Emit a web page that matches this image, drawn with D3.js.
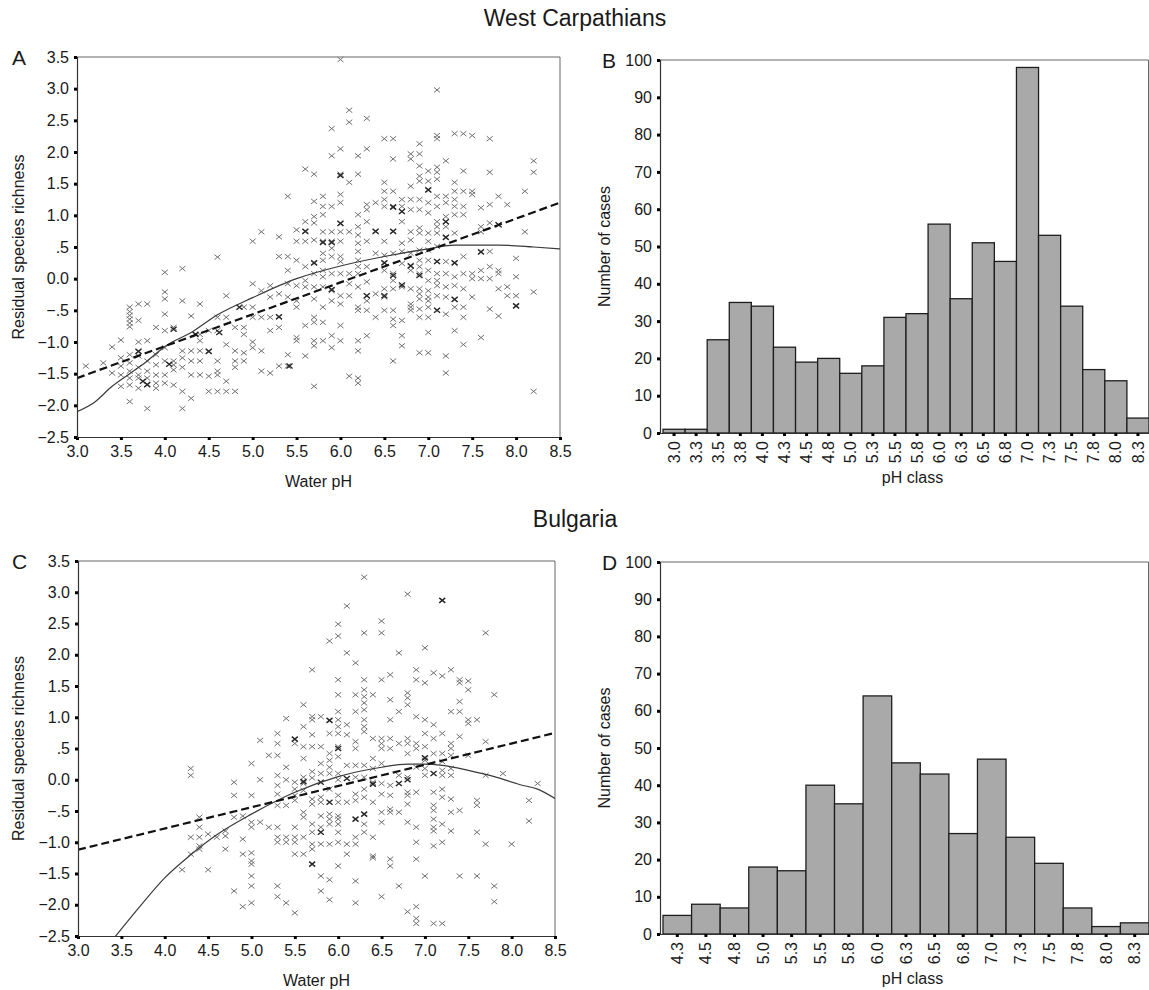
<!DOCTYPE html>
<html>
<head>
<meta charset="utf-8">
<script src="https://cdn.jsdelivr.net/npm/d3@7"></script>
<style>
  body { margin: 0; background: #fff; }
  svg { display: block; }
  text { font-family: "Liberation Sans", Arial, sans-serif; fill: #1a1a1a; }
</style>
</head>
<body>
<div class="figure"></div>
<script>
// West Carpathians: residual richness by water pH, one list per pH value
const colsA = [
  [3.1, [-1.38]], [3.3, [-1.33]], [3.4, [-1.08, -1.49]],
  [3.5, [-0.97, -1.25, -1.38, -1.52, -1.7]],
  [3.6, [-0.45, -0.52, -0.58, -0.64, -0.7, -0.76, -1.2, -1.33, -1.46, -1.57, -1.68, -1.94]],
  [3.7, [-0.4, -0.66, -1.0, -1.14, -1.22, -1.4, -1.52, -1.57, -1.73]],
  [3.8, [-0.4, -0.98, -1.3, -1.46, -1.57, -1.68, -2.05]],
  [3.9, [-0.77, -1.2, -1.36, -1.52, -1.65, -1.73]],
  [4.0, [0.1, -0.21, -0.32, -0.56, -0.82, -1.09, -1.3, -1.52, -1.65]],
  [4.1, [-0.77, -1.3, -1.36, -1.44, -1.68]],
  [4.2, [0.16, -0.35, -1.14, -1.25, -1.4, -1.78, -2.05]],
  [4.3, [-0.59, -1.14, -1.3, -1.52, -1.89]],
  [4.4, [-0.4, -0.88, -0.98, -1.14, -1.3, -1.52]],
  [4.5, [-0.82, -1.14, -1.54, -1.78]],
  [4.6, [0.34, -0.61, -0.82, -1.3, -1.46, -1.52, -1.78]],
  [4.7, [-0.27, -0.61, -1.04, -1.62, -1.78]],
  [4.8, [-0.77, -1.14, -1.3, -1.4, -1.78]],
  [4.9, [-0.45, -0.77, -0.88, -1.17, -1.3]],
  [5.0, [0.59, -0.08, -0.45, -0.61, -1.0, -1.09]],
  [5.1, [0.74, -0.19, -0.61, -1.14, -1.46]],
  [5.2, [-0.11, -0.29, -0.61, -0.82, -1.49]],
  [5.3, [0.66, 0.35, -0.24, -0.61, -0.77, -1.38]],
  [5.4, [1.3, 0.35, 0.13, -0.08, -0.29, -1.2, -1.38]],
  [5.5, [0.77, 0.59, 0.29, -0.11, -0.35, -0.45, -0.93, -0.98]],
  [5.6, [1.73, 0.9, 0.74, 0.59, 0.19, -0.03, -0.13, -0.74, -1.22]],
  [5.7, [1.65, 1.22, 0.98, 0.88, 0.61, 0.24, 0.08, -0.13, -0.32, -0.61, -0.69, -0.98, -1.06, -1.7]],
  [5.8, [1.3, 1.14, 1.01, 0.74, 0.59, 0.4, 0.29, 0.13, 0.03, -0.13, -0.45, -0.69, -0.98]],
  [5.9, [2.37, 1.94, 1.14, 0.74, 0.59, 0.48, 0.35, 0.08, -0.19, -0.35, -0.9, -1.09]],
  [6.0, [3.46, 2.05, 1.65, 1.33, 1.2, 0.88, 0.74, 0.59, 0.35, 0.27, 0.08, -0.27, -0.4, -0.74, -0.98]],
  [6.1, [2.66, 2.47, 1.52, 0.74, 0.08, -0.08, -0.27, -1.54]],
  [6.2, [1.94, 1.65, 1.01, 0.82, 0.69, 0.56, 0.43, 0.29, 0.19, 0.08, -0.13, -0.45, -0.5, -0.98, -1.14, -1.57, -1.65]],
  [6.3, [2.53, 2.05, 1.17, 1.09, 0.9, 0.59, 0.19, -0.05, -0.27, -0.35, -0.5, -0.9]],
  [6.4, [1.2, 0.74, 0.4, -0.24, -0.61]],
  [6.5, [2.21, 1.52, 1.38, 1.25, 1.14, 0.59, 0.37, 0.24, 0.13, -0.16, -0.29, -0.5]],
  [6.6, [2.21, 1.89, 1.38, 1.14, 0.74, 0.4, 0.08, -0.03, -0.16, -0.5, -0.64, -0.74, -1.3]],
  [6.7, [1.25, 1.14, 1.06, 0.9, 0.56, 0.43, 0.24, -0.13, -0.66, -0.9, -1.06]],
  [6.8, [1.97, 1.89, 1.46, 1.25, 1.09, 0.74, 0.61, 0.4, 0.21, 0.13, -0.16, -0.4, -0.45, -0.5]],
  [6.9, [2.13, 1.97, 1.78, 1.62, 1.54, 1.25, 1.09, 0.8, 0.72, 0.45, 0.29, 0.19, 0.08, -0.16, -0.24, -0.32, -0.48, -0.61, -1.17]],
  [7.0, [1.7, 1.54, 1.41, 1.2, 1.04, 0.72, 0.59, 0.45, 0.29, 0.13, -0.03, -0.19, -0.29, -0.35, -0.45, -0.61, -0.85, -1.17]],
  [7.1, [2.98, 2.26, 2.21, 1.76, 1.68, 1.57, 1.3, 1.14, 0.9, 0.82, 0.72, 0.51, 0.27, 0.08, -0.03, -0.11, -0.27, -0.5]],
  [7.2, [1.86, 1.3, 1.2, 0.98, 0.9, 0.82, 0.66, 0.27, 0.08, -0.13, -0.29, -0.56, -1.22, -1.49]],
  [7.3, [2.29, 1.52, 1.38, 1.25, 1.14, 1.01, 0.72, 0.24, 0.03, -0.11, -0.32, -0.45, -0.82]],
  [7.4, [2.29, 1.7, 1.38, 1.14, 1.01, 0.35, 0.08, -0.16, -0.45, -0.61, -1.04]],
  [7.5, [2.26, 1.38, 1.33, 0.08, 0.0, -0.29]],
  [7.6, [1.12, 0.82, 0.74, 0.43, 0.13, 0.0, -0.93]],
  [7.7, [2.21, 1.68, 1.17, 0.88, 0.43, 0.19, 0.0, -0.48]],
  [7.8, [1.3, 0.85, 0.13, 0.08, -0.16, -0.59]],
  [7.9, [1.17, -0.13, -0.27]],
  [8.0, [0.32, 0.03, -0.27, -0.43]],
  [8.1, [1.38, 0.74]],
  [8.2, [1.86, 1.68, -0.21, -1.78]]
];
// darker (overlapping) crosses
const heavyA = [
  [3.7, -1.15], [3.75, -1.62], [3.8, -1.67], [4.1, -0.8], [4.05, -1.35], [4.35, -0.88],
  [4.5, -1.15], [4.62, -0.85], [4.85, -0.45], [5.3, -0.6], [5.42, -1.38], [5.6, 0.75],
  [5.8, 0.57], [5.9, 0.57], [5.7, 0.25], [5.9, -0.17], [6.0, 1.63], [6.0, 0.87],
  [6.3, -0.27], [6.4, 0.75], [6.5, -0.27], [6.5, 0.25], [6.6, 0.75], [6.6, 0.05],
  [6.6, 1.13], [6.7, 1.06], [6.7, -0.1], [6.8, 0.2], [6.9, 0.05], [7.0, 1.4],
  [7.1, -0.5], [7.1, 0.27], [7.2, 0.65], [7.2, 0.9], [7.3, -0.33], [7.3, 0.25],
  [7.6, 0.42], [7.8, 0.85], [8.0, -0.43]
];
const linearA = [[3.0, -1.57], [8.5, 1.2]];
const smoothA = [[3.0, -2.1], [3.2, -1.95], [3.4, -1.7], [3.6, -1.5], [3.8, -1.3], [4.0, -1.07],
  [4.3, -0.85], [4.6, -0.57], [5.0, -0.3], [5.5, 0.0], [6.0, 0.2], [6.5, 0.35],
  [7.0, 0.47], [7.3, 0.53], [7.8, 0.53], [8.2, 0.5], [8.5, 0.47]];

// Bulgaria
const colsC = [
  [4.2, [-1.44]], [4.3, [0.18, 0.07, -0.92, -1.19]],
  [4.4, [-0.6, -0.76, -0.92, -1.06, -1.11]], [4.5, [-0.87, -1.44]], [4.6, [-0.92]],
  [4.7, [-0.82, -0.9, -1.11]], [4.8, [-0.04, -0.25, -0.6, -1.78]],
  [4.9, [-0.58, -0.95, -1.19, -2.03]],
  [5.0, [0.26, -0.25, -0.68, -0.76, -1.17, -1.3, -1.35, -1.54, -1.7, -1.97]],
  [5.1, [0.63, 0.0, -0.68]], [5.2, [0.39, -0.76]],
  [5.3, [0.74, 0.58, 0.39, 0.07, -0.09, -0.23, -0.41, -0.76, -0.92, -1.0, -1.7, -1.87]],
  [5.4, [0.98, 0.2, 0.0, -0.41, -0.92, -1.0, -1.97]],
  [5.5, [0.58, -0.04, -0.15, -0.25, -0.33, -0.76, -0.92, -1.0, -1.19, -2.13]],
  [5.6, [1.2, 0.85, 0.53, 0.34, 0.04, -0.06, -0.17, -0.52, -0.6, -0.92, -1.19]],
  [5.7, [1.76, 1.01, 0.96, 0.72, 0.53, 0.13, 0.03, -0.31, -0.39, -0.71, -0.84, -1.03, -1.11]],
  [5.8, [1.01, 0.53, 0.26, 0.1, -0.28, -0.36, -0.58, -0.76, -1.03, -1.54, -1.78]],
  [5.9, [2.22, 0.74, 0.42, 0.31, 0.2, 0.1, -0.15, -0.55, -0.63, -0.71, -1.03, -1.6, -1.92]],
  [6.0, [2.49, 2.3, 1.6, 1.36, 1.09, 0.96, 0.85, 0.74, 0.53, 0.37, 0.1, 0.0, -0.25, -0.36, -0.58, -0.63, -0.71, -0.84, -1.0, -1.38]],
  [6.1, [2.78, 2.03, 0.88, 0.72, 0.23, -0.36, -1.03, -1.19]],
  [6.2, [1.87, 1.36, 1.09, 0.61, 0.5, 0.23, 0.04, -0.23, -0.33, -0.92, -1.03, -1.62, -1.97]],
  [6.3, [3.24, 2.35, 1.6, 1.44, 1.33, 1.23, 1.12, 0.96, 0.85, 0.77, 0.23, 0.04, -0.15, -0.28, -0.71, -0.84]],
  [6.4, [1.36, 0.66, 0.34, 0.18, -0.04, -0.36, -0.92, -1.22, -1.25]],
  [6.5, [2.54, 2.35, 1.6, 0.66, 0.58, 0.5, 0.26, -0.06, -0.23, -0.52, -0.68, -1.87]],
  [6.6, [1.68, 1.28, 0.96, 0.66, 0.5, -0.09, -0.25, -0.47, -0.52, -1.27, -1.38]],
  [6.7, [2.03, 1.09, 0.58, 0.07, -0.52, -1.7]],
  [6.8, [2.97, 1.39, 1.31, 1.2, 0.66, 0.58, 0.42, 0.04, -0.2, -0.25, -0.39, -0.68, -2.11]],
  [6.9, [1.76, 1.6, 1.01, 0.58, 0.5, 0.2, -0.2, -0.76, -1.0, -1.27, -2.03, -2.22, -2.3]],
  [7.0, [2.11, 1.55, 0.96, 0.74, 0.53, 0.31, 0.18, 0.07, -1.54]],
  [7.1, [1.71, 0.88, 0.66, 0.42, -0.2, -0.41, -0.49, -0.63, -0.76, -0.82, -1.06, -2.3]],
  [7.2, [1.66, 0.74, 0.42, 0.29, 0.15, 0.07, -0.15, -0.28, -0.71, -1.0, -2.3]],
  [7.3, [1.76, 1.09, 0.58, 0.5, 0.39, 0.18, 0.07, -0.31, -0.52, -0.82]],
  [7.4, [1.6, 1.55, 1.25, 1.09, 0.69, -0.49, -1.54]],
  [7.5, [1.58, 1.44, 0.96, 0.9, 0.39]],
  [7.6, [0.96, -0.33, -0.41, -0.84, -1.54]],
  [7.7, [2.35, 0.61, 0.07, -1.03]],
  [7.8, [1.36, -1.7, -1.95]], [7.9, [0.1]], [8.0, [-1.03]],
  [8.2, [-0.33, -0.66]], [8.3, [-0.06]]
];
const heavyC = [
  [5.5, 0.65], [5.7, -1.35], [5.6, -0.03], [5.8, -0.04], [5.8, -0.84], [5.9, -0.36],
  [5.9, 0.95], [6.0, 0.5], [6.1, 0.02], [6.2, -0.63], [6.3, -0.55], [6.4, -0.07],
  [6.7, -0.06], [6.8, 0.0], [7.0, 0.35], [7.1, 0.1], [7.2, 2.87]
];
const linearC = [[3.0, -1.12], [8.5, 0.75]];
const smoothC = [[3.4, -2.56], [3.7, -2.05], [4.0, -1.57], [4.3, -1.2], [4.6, -0.88],
  [5.0, -0.55], [5.5, -0.2], [6.0, 0.05], [6.5, 0.2], [6.8, 0.25], [7.0, 0.25],
  [7.2, 0.23], [7.5, 0.15], [7.8, 0.05], [8.1, -0.08], [8.3, -0.15], [8.5, -0.3]];

// histograms
const classesB = ["3.0", "3.3", "3.5", "3.8", "4.0", "4.3", "4.5", "4.8", "5.0", "5.3", "5.5",
  "5.8", "6.0", "6.3", "6.5", "6.8", "7.0", "7.3", "7.5", "7.8", "8.0", "8.3"];
const countsB = [1, 1, 25, 35, 34, 23, 19, 20, 16, 18, 31, 32, 56, 36, 51, 46, 98, 53, 34, 17, 14, 4];
const classesD = ["4.3", "4.5", "4.8", "5.0", "5.3", "5.5", "5.8", "6.0", "6.3", "6.5", "6.8",
  "7.0", "7.3", "7.5", "7.8", "8.0", "8.3"];
const countsD = [5, 8, 7, 18, 17, 40, 35, 64, 46, 43, 27, 47, 26, 19, 7, 2, 3];

const xTicks = d3.range(3.0, 8.51, 0.5);
const yTicks = d3.range(-2.5, 3.51, 0.5);
const countTicks = d3.range(0, 101, 10);

const svg = d3.select(".figure").append("svg")
  .attr("width", 1149)
  .attr("height", 990);

svg.append("rect").attr("width", 1149).attr("height", 990).attr("fill", "#fff");

// region titles
svg.append("text").attr("x", 575).attr("y", 26).attr("text-anchor", "middle")
  .attr("font-size", "23px").text("West Carpathians");
svg.append("text").attr("x", 575).attr("y", 527).attr("text-anchor", "middle")
  .attr("font-size", "23px").text("Bulgaria");

function residFormat(v) {
  const a = Math.abs(v);
  if (a < 1e-9) return "0.0";
  const s = a === 0.5 ? ".5" : a.toFixed(1);
  return (v < 0 ? "\u2212" : "") + s;
}

function styleAxis(g) {
  g.select(".domain").attr("stroke", "#333").attr("stroke-width", 1.2);
  g.selectAll(".tick line").attr("stroke", "#000").attr("stroke-width", 3);
  g.selectAll(".tick text").attr("font-size", "16px").attr("fill", "#1a1a1a")
    .attr("font-family", "'Liberation Sans', Arial, sans-serif");
}

function scatterPanel(letter, cols, heavy, linear, smooth, box, clipId) {
  const x = d3.scaleLinear().domain([3.0, 8.5]).range([box.left, box.right]);
  const y = d3.scaleLinear().domain([-2.5, 3.5]).range([box.bottom, box.top]);
  const g = svg.append("g");

  // frame top/right
  g.append("path")
    .attr("d", `M${box.left},${box.top}H${box.right}V${box.bottom}`)
    .attr("fill", "none").attr("stroke", "#666").attr("stroke-width", 1);

  g.append("clipPath").attr("id", clipId).append("rect")
    .attr("x", box.left).attr("y", box.top)
    .attr("width", box.right - box.left).attr("height", box.bottom - box.top);

  const points = cols.flatMap(c => c[1].map(v => [c[0], v]));
  const cross = "M-3,-2.5L3,2.5M-3,2.5L3,-2.5";

  g.selectAll(".pt")
    .data(points)
    .enter()
    .append("path")
    .attr("class", "pt")
    .attr("d", cross)
    .attr("transform", d => `translate(${x(d[0])},${y(d[1])})`)
    .attr("fill", "none")
    .attr("stroke", "#707070")
    .attr("stroke-width", 1);

  g.selectAll(".heavy")
    .data(heavy)
    .enter()
    .append("path")
    .attr("class", "heavy")
    .attr("d", cross)
    .attr("transform", d => `translate(${x(d[0])},${y(d[1])})`)
    .attr("fill", "none")
    .attr("stroke", "#262626")
    .attr("stroke-width", 1.4);

  const line = d3.line().x(d => x(d[0])).y(d => y(d[1]));
  g.append("path")
    .attr("clip-path", `url(#${clipId})`)
    .attr("d", line.curve(d3.curveMonotoneX)(smooth))
    .attr("fill", "none").attr("stroke", "#3a3a3a").attr("stroke-width", 1.2);
  g.append("path")
    .attr("clip-path", `url(#${clipId})`)
    .attr("d", d3.line().x(d => x(d[0])).y(d => y(d[1]))(linear))
    .attr("fill", "none").attr("stroke", "#111").attr("stroke-width", 2.2)
    .attr("stroke-dasharray", "8,4");

  g.append("g")
    .attr("transform", `translate(0,${box.bottom})`)
    .call(d3.axisBottom(x).tickValues(xTicks).tickFormat(d3.format(".1f")).tickSize(3).tickPadding(6))
    .call(styleAxis);
  g.append("g")
    .attr("transform", `translate(${box.left},0)`)
    .call(d3.axisLeft(y).tickValues(yTicks).tickFormat(residFormat).tickSize(3).tickPadding(5))
    .call(styleAxis);

  g.append("text").attr("x", 12).attr("y", box.top + 8).attr("font-size", "21px").text(letter);
  g.append("text")
    .attr("transform", `translate(24,${(box.top + box.bottom) / 2}) rotate(-90)`)
    .attr("text-anchor", "middle").attr("font-size", "16px").text("Residual species richness");
  g.append("text")
    .attr("x", (box.left + box.right) / 2).attr("y", box.bottom + 50)
    .attr("text-anchor", "middle").attr("font-size", "16px").text("Water pH");
}

function histPanel(letter, classes, counts, box) {
  const x = d3.scaleBand().domain(classes).range([box.left + 3, box.right]).padding(0);
  const y = d3.scaleLinear().domain([0, 100]).range([box.bottom, box.top]);
  const g = svg.append("g");

  g.append("path")
    .attr("d", `M${box.left},${box.top}H${box.right - 0.5}V${box.bottom}`)
    .attr("fill", "none").attr("stroke", "#666").attr("stroke-width", 1);

  g.selectAll(".bar")
    .data(counts)
    .enter()
    .append("rect")
    .attr("class", "bar")
    .attr("x", (d, i) => x(classes[i]))
    .attr("y", d => y(d))
    .attr("width", x.bandwidth())
    .attr("height", d => y(0) - y(d))
    .attr("fill", "#a9a9a9")
    .attr("stroke", "#1e1e1e")
    .attr("stroke-width", 1.3);

  const xa = g.append("g")
    .attr("transform", `translate(0,${box.bottom})`)
    .call(d3.axisBottom(x).tickSize(3).tickSizeOuter(0).tickPadding(6))
    .call(styleAxis);
  xa.select(".domain").attr("d", `M${box.left},0.5H${box.right}`);
  xa.selectAll(".tick text")
    .attr("transform", "rotate(-90)")
    .attr("text-anchor", "end")
    .attr("x", -8).attr("y", 0).attr("dy", "0.35em");

  g.append("g")
    .attr("transform", `translate(${box.left},0)`)
    .call(d3.axisLeft(y).tickValues(countTicks).tickSize(3).tickPadding(5))
    .call(styleAxis);

  g.append("text").attr("x", box.left - 58).attr("y", box.top + 8).attr("font-size", "21px").text(letter);
  g.append("text")
    .attr("transform", `translate(${box.left - 50},${(box.top + box.bottom) / 2}) rotate(-90)`)
    .attr("text-anchor", "middle").attr("font-size", "16px").text("Number of cases");
  g.append("text")
    .attr("x", (box.left + box.right) / 2 + 8).attr("y", box.bottom + 50)
    .attr("text-anchor", "middle").attr("font-size", "16px").text("pH class");
}

scatterPanel("A", colsA, heavyA, linearA, smoothA, { left: 77, right: 560, top: 57, bottom: 437 }, "clipA");
scatterPanel("C", colsC, heavyC, linearC, smoothC, { left: 78, right: 555, top: 561, bottom: 936 }, "clipC");
histPanel("B", classesB, countsB, { left: 660, right: 1149, top: 60, bottom: 433 });
histPanel("D", classesD, countsD, { left: 660, right: 1149, top: 562, bottom: 934 });
</script>
</body>
</html>
